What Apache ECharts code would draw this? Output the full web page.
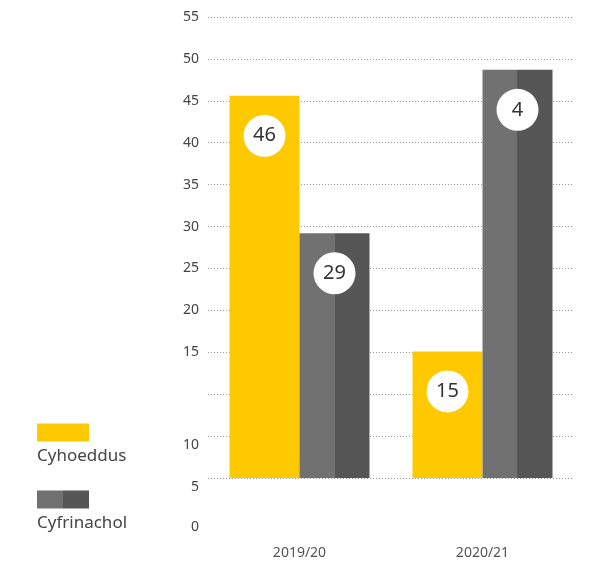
<!DOCTYPE html>
<html><head><meta charset="utf-8">
<script src="https://cdn.jsdelivr.net/npm/echarts@6/dist/echarts.min.js"></script>
<style>html,body{margin:0;padding:0;background:#fff}#c{width:608px;height:563px}</style>
</head><body><div id="c"></div>
<script>
const categories = ['2019/20', '2020/21'];
const seriesNames = ['Cyhoeddus', 'Cyfrinachol'];
const cyhoeddus = [45.6, 15.1];
const cyfrinachol = [29.2, 48.7];
const cyhoeddusLabels = ['46', '15'];
const cyfrinacholLabels = ['29', '4'];
// tick label text as printed in the source picture (upper labels sit on their gridlines,
// the three lowest labels are printed below the baseline)
const upperTickValues = [15, 20, 25, 30, 35, 40, 45, 50, 55];
const lowerTickTexts = ['10', '5', '0'];

const FONT = 'Noto Sans';
const yellow = '#FFC900';
const grayFill = {
  type: 'linear', x: 0, y: 0, x2: 1, y2: 0,
  colorStops: [
    {offset: 0, color: '#717171'}, {offset: 0.5, color: '#717171'},
    {offset: 0.5, color: '#565656'}, {offset: 1, color: '#565656'}
  ]
};
const labelStyle = (arr) => ({
  show: true, position: 'insideTop', distance: 40,
  formatter: p => arr[p.dataIndex],
  backgroundColor: '#fff', width: 42, height: 42, lineHeight: 42,
  borderRadius: 21, align: 'center', verticalAlign: 'middle',
  color: '#333', fontSize: 20, fontFamily: FONT
});

const chart = echarts.init(document.getElementById('c'));
chart.setOption({
  animation: false,
  grid: {left: 208, right: 34, top: 17, bottom: 85},
  legend: {
    orient: 'vertical', left: 37, top: 413, itemGap: 15, padding: 0,
    itemWidth: 52, itemHeight: 18, icon: 'rect',
    formatter: n => '{s| }\n{t|' + n + '}',
    textStyle: {
      fontFamily: FONT, fontSize: 17, color: '#444', padding: [0, 0, 0, -57],
      rich: {
        s: {lineHeight: 48, fontSize: 17},
        t: {lineHeight: 22, fontSize: 17, fontFamily: FONT, color: '#444'}
      }
    },
    data: seriesNames
  },
  xAxis: {
    type: 'category', data: categories,
    axisLine: {show: false}, axisTick: {show: false},
    axisLabel: {margin: 68, fontFamily: FONT, fontSize: 14, color: '#555'}
  },
  yAxis: {
    type: 'value', min: 0, max: 55, interval: 5,
    axisLine: {show: false}, axisTick: {show: false},
    splitLine: {show: true, lineStyle: {type: [1, 2], color: '#999', width: 1}},
    axisLabel: {
      margin: 9, fontFamily: FONT, fontSize: 14, color: '#444',
      showMinLabel: true, showMaxLabel: true, hideOverlap: false,
      formatter: v => {
        if (v === 0) return '{s| }\n{a|' + lowerTickTexts[0] + '}\n{b|' + lowerTickTexts[1] + '}\n{c|' + lowerTickTexts[2] + '}';
        return upperTickValues.indexOf(v) >= 0 ? String(v) : '';
      },
      rich: {
        s: {lineHeight: 14, fontSize: 14},
        a: {lineHeight: 44, fontSize: 14, fontFamily: FONT, color: '#444'},
        b: {lineHeight: 40, fontSize: 14, fontFamily: FONT, color: '#444'},
        c: {lineHeight: 40, fontSize: 14, fontFamily: FONT, color: '#444'}
      }
    }
  },
  series: [
    {name: seriesNames[0], type: 'bar', data: cyhoeddus, barWidth: 70, barGap: '0%',
     itemStyle: {color: yellow}, label: labelStyle(cyhoeddusLabels)},
    {name: seriesNames[1], type: 'bar', data: cyfrinachol, barWidth: 70, barGap: '0%',
     itemStyle: {color: grayFill}, label: labelStyle(cyfrinacholLabels)}
  ]
});
</script></body></html>
